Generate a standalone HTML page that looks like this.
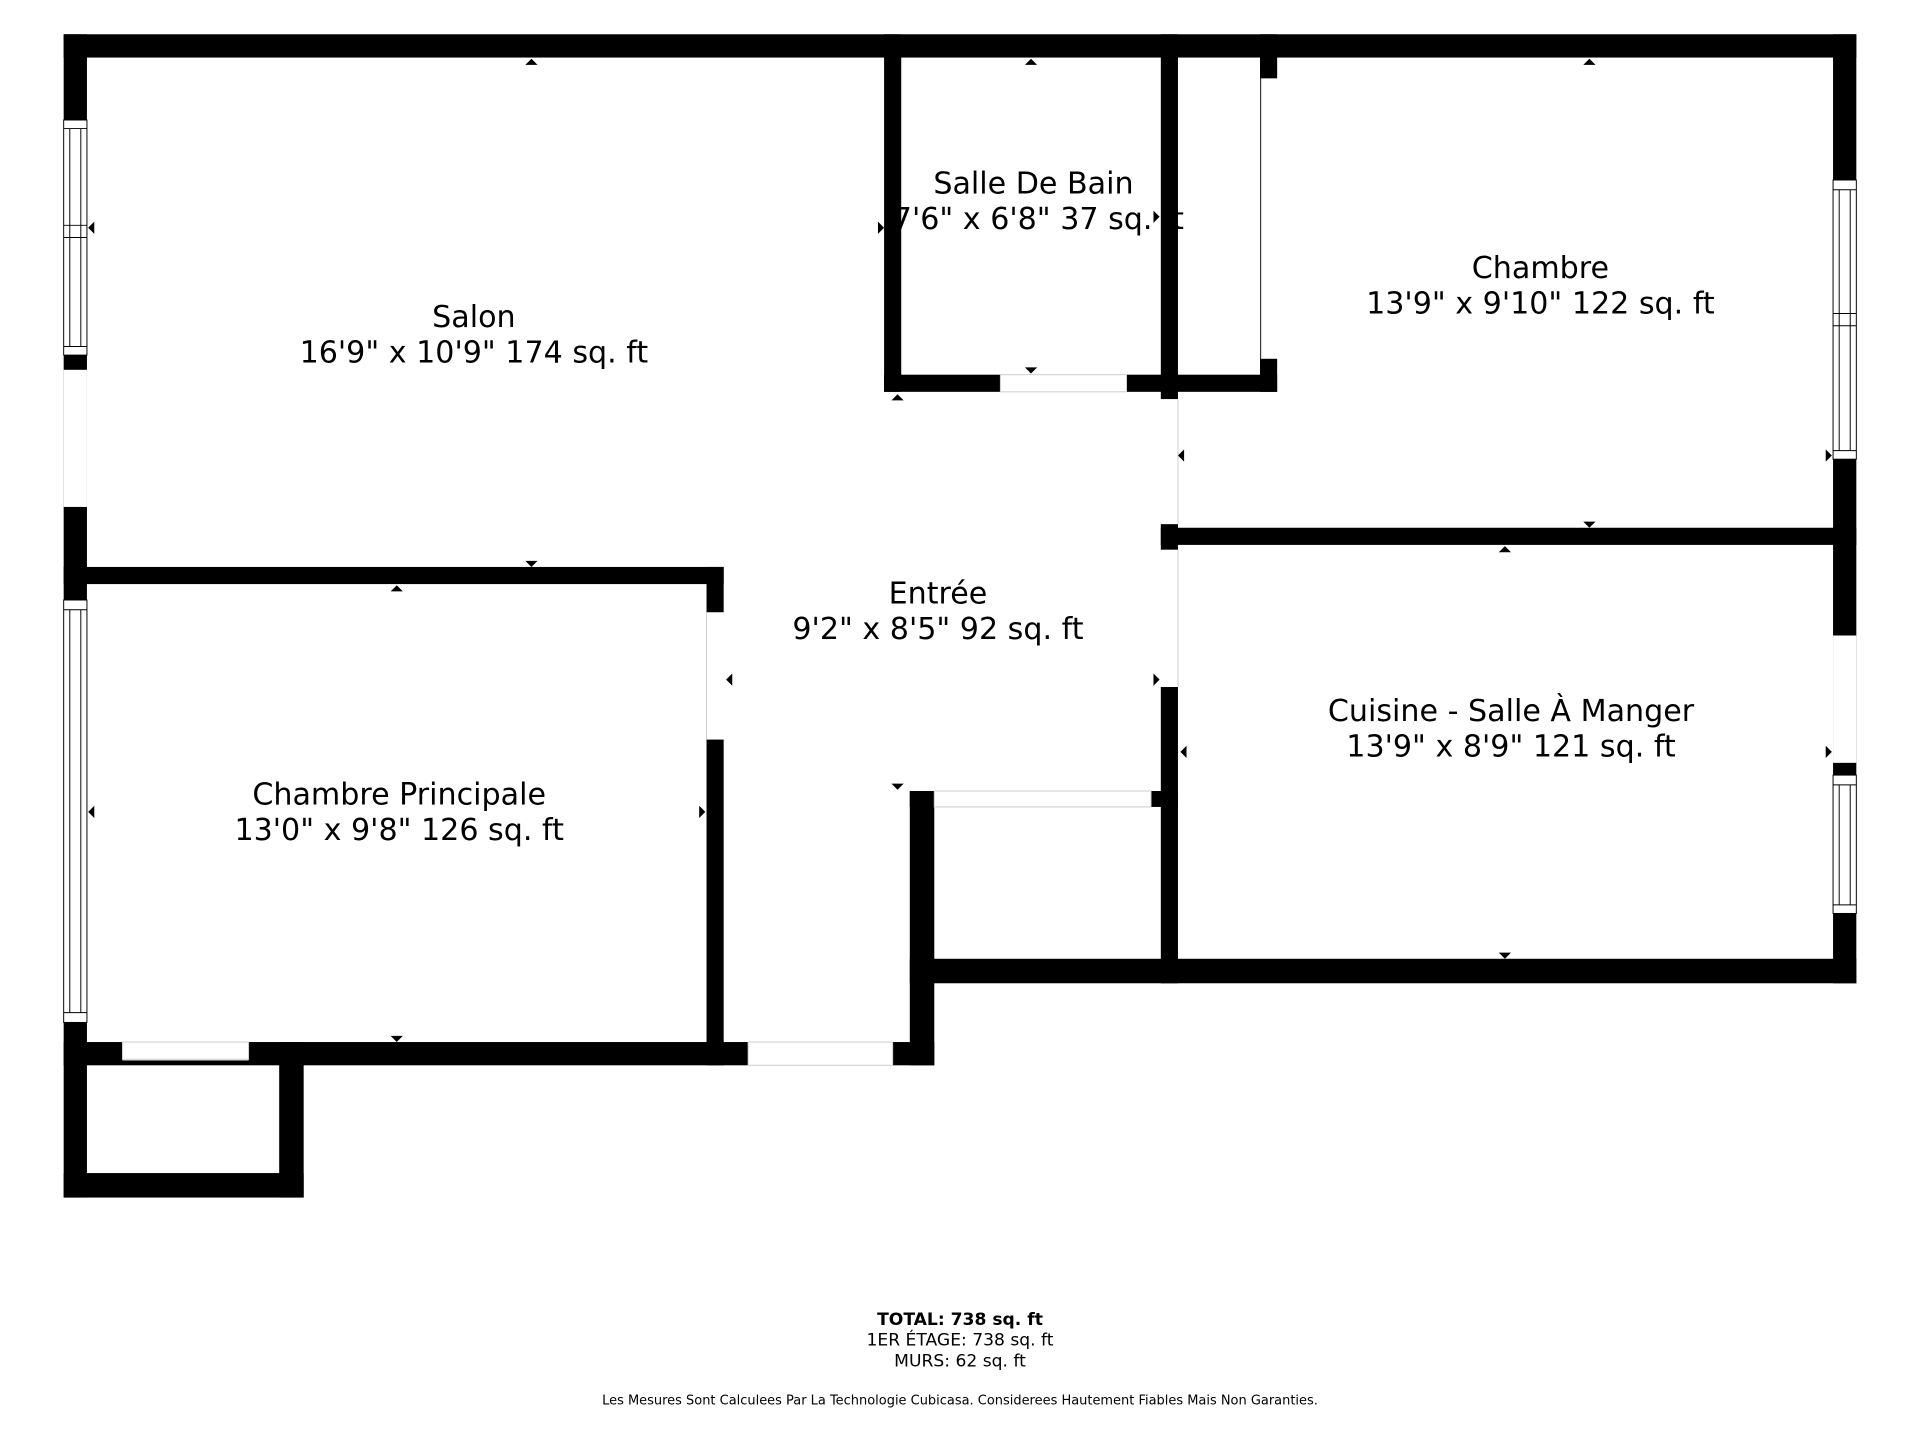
<!DOCTYPE html>
<html><head><meta charset="utf-8"><style>
html,body{margin:0;padding:0;background:#fff;}
svg{display:block}
text{font-family:"DejaVu Sans","Liberation Sans",sans-serif;fill:#000}
</style></head><body>
<svg width="1920" height="1440" viewBox="0 0 1568 1176" xmlns="http://www.w3.org/2000/svg">
<g fill="#000">
<rect x="52" y="28" width="1464" height="19"/>
<rect x="52" y="28" width="19" height="950"/>
<rect x="1497" y="28" width="19" height="775"/>
<rect x="743" y="783" width="773" height="20"/>
<rect x="722" y="28" width="14" height="292"/>
<rect x="722" y="306" width="321" height="14"/>
<rect x="948" y="28" width="14" height="298"/>
<rect x="1029" y="28" width="14" height="292"/>
<rect x="948" y="431" width="568" height="14"/>
<rect x="948" y="428" width="14" height="21"/>
<rect x="948" y="561" width="14" height="242"/>
<rect x="743" y="646" width="219" height="13"/>
<rect x="743" y="646" width="20" height="224"/>
<rect x="52" y="463" width="539" height="14"/>
<rect x="577" y="463" width="14" height="407"/>
<rect x="52" y="851" width="711" height="19"/>
<rect x="52" y="958" width="196" height="20"/>
<rect x="228" y="851" width="20" height="127"/>
</g>
<g fill="#fff" stroke="#000" stroke-width="0.8">
<rect x="52" y="98" width="19" height="192"/>
<line x1="57" y1="105" x2="57" y2="283"/><line x1="66" y1="105" x2="66" y2="283"/>
<line x1="52" y1="105" x2="71" y2="105"/><line x1="52" y1="283" x2="71" y2="283"/>
<line x1="52" y1="184" x2="71" y2="184"/><line x1="52" y1="194" x2="71" y2="194"/>
<rect x="52" y="302" width="19" height="112" stroke="none"/>
<rect x="52" y="490" width="19" height="345"/>
<line x1="57" y1="498" x2="57" y2="827"/><line x1="66" y1="498" x2="66" y2="827"/>
<line x1="52" y1="498" x2="71" y2="498"/><line x1="52" y1="827" x2="71" y2="827"/>
<rect x="1497" y="147" width="19" height="228"/>
<line x1="1502" y1="155" x2="1502" y2="368"/><line x1="1511" y1="155" x2="1511" y2="368"/>
<line x1="1497" y1="155" x2="1516" y2="155"/><line x1="1497" y1="368" x2="1516" y2="368"/>
<line x1="1497" y1="256" x2="1516" y2="256"/><line x1="1497" y1="266" x2="1516" y2="266"/>
<rect x="1497" y="519" width="19" height="104" stroke="none"/>
<rect x="1497" y="633" width="19" height="113"/>
<line x1="1502" y1="641" x2="1502" y2="739"/><line x1="1511" y1="641" x2="1511" y2="739"/>
<line x1="1497" y1="641" x2="1516" y2="641"/><line x1="1497" y1="739" x2="1516" y2="739"/>
</g>
<g fill="#fff" stroke="none">
<rect x="817" y="305" width="103" height="16"/>
<rect x="1030" y="64" width="14" height="229"/>
<rect x="948" y="326" width="14" height="102"/>
<rect x="948" y="449" width="14" height="112"/>
<rect x="763" y="645" width="177" height="15"/>
<rect x="576" y="500" width="16" height="104"/>
<rect x="100" y="850" width="103" height="16"/>
<rect x="611" y="850" width="118" height="21"/>
</g>
<g fill="none" stroke="#ccc" stroke-width="0.8">
<rect x="817" y="306" width="103" height="14"/>
<line x1="1030" y1="64" x2="1030" y2="293"/>
<line x1="962" y1="326" x2="962" y2="428"/>
<line x1="962" y1="449" x2="962" y2="561"/>
<rect x="763" y="646" width="177" height="13"/>
<line x1="577" y1="500" x2="577" y2="604"/>
<rect x="100" y="851" width="103" height="14"/>
<rect x="611" y="851" width="118" height="19"/>
</g>
<g fill="#000">
<path d="M429 53 l5 -5 l5 5z"/><path d="M837 53 l5 -5 l5 5z"/><path d="M1293 53 l5 -5 l5 5z"/>
<path d="M429 458 l5 5 l5 -5z"/><path d="M319 483 l5 -5 l5 5z"/><path d="M319 846 l5 5 l5 -5z"/>
<path d="M837 300 l5 5 l5 -5z"/><path d="M728 327 l5 -5 l5 5z"/><path d="M728 640 l5 5 l5 -5z"/>
<path d="M1293 426 l5 5 l5 -5z"/><path d="M1224 451 l5 -5 l5 5z"/><path d="M1224 778 l5 5 l5 -5z"/>
<path d="M77 181 l-5 5 l5 5z"/><path d="M717 181 l5 5 l-5 5z"/><path d="M942 172 l5 5 l-5 5z"/>
<path d="M967 367 l-5 5 l5 5z"/><path d="M1491 367 l5 5 l-5 5z"/>
<path d="M77 658 l-5 5 l5 5z"/><path d="M571 658 l5 5 l-5 5z"/>
<path d="M598 550 l-5 5 l5 5z"/><path d="M942 550 l5 5 l-5 5z"/>
<path d="M969 609 l-5 5 l5 5z"/><path d="M1491 609 l5 5 l-5 5z"/>
</g>
<g font-size="24.6" text-anchor="middle">
<text x="387" y="267">Salon</text><text x="387" y="296">16'9" x 10'9" 174 sq. ft</text>
<text x="844" y="158">Salle De Bain</text><text x="848" y="187">7'6" x 6'8" 37 sq. ft</text>
<text x="1258" y="227">Chambre</text><text x="1258" y="256">13'9" x 9'10" 122 sq. ft</text>
<text x="766" y="493">Entrée</text><text x="766" y="522">9'2" x 8'5" 92 sq. ft</text>
<text x="1234" y="589">Cuisine - Salle À Manger</text><text x="1234" y="618">13'9" x 8'9" 121 sq. ft</text>
<text x="326" y="657">Chambre Principale</text><text x="326" y="686">13'0" x 9'8" 126 sq. ft</text>
</g>
<g font-size="14" text-anchor="middle">
<text x="784" y="1082" font-weight="bold">TOTAL: 738 sq. ft</text>
<text x="784" y="1099">1ER ÉTAGE: 738 sq. ft</text>
<text x="784" y="1116">MURS: 62 sq. ft</text>
<text x="784" y="1147" font-size="10.6">Les Mesures Sont Calculees Par La Technologie Cubicasa. Considerees Hautement Fiables Mais Non Garanties.</text>
</g>
</svg>
</body></html>
